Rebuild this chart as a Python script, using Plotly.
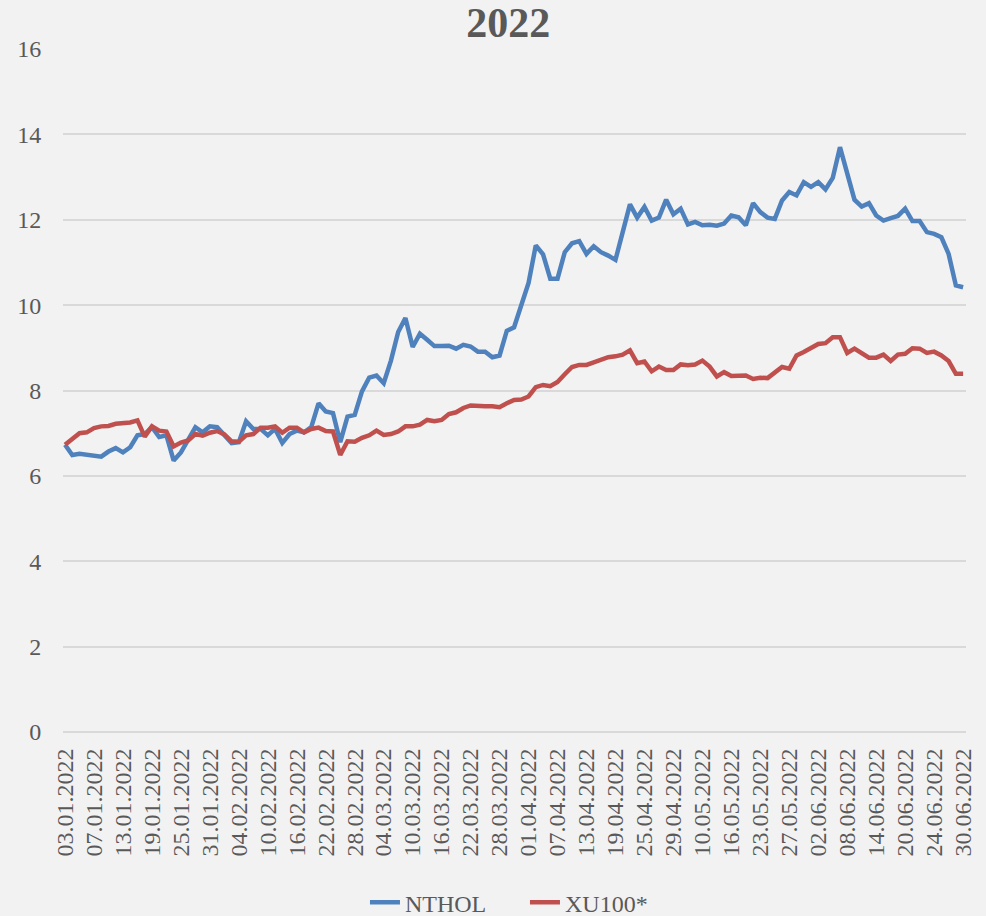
import pandas as pd
import plotly.graph_objects as go

# Trading days (Borsa Istanbul, 2022 H1)
holidays = ["2022-05-02", "2022-05-03", "2022-05-04", "2022-05-19"]
dates = [d.strftime("%d.%m.%Y") for d in pd.bdate_range("2022-01-03", "2022-06-30")
         if d.strftime("%Y-%m-%d") not in holidays]
tick_labels = dates[::4]

nthol = [
    6.73, 6.49, 6.52, 6.49, 6.46, 6.45, 6.57, 6.65, 6.55, 6.67,
    6.95, 6.98, 7.14, 6.91, 6.95, 6.36, 6.55, 6.83, 7.14, 7.02,
    7.16, 7.14, 6.95, 6.77, 6.79, 7.28, 7.10, 7.10, 6.95, 7.10,
    6.77, 6.98, 7.06, 7.02, 7.14, 7.70, 7.51, 7.47, 6.79, 7.39,
    7.43, 7.98, 8.30, 8.35, 8.17, 8.70, 9.37, 9.70, 9.02, 9.33,
    9.19, 9.04, 9.04, 9.05, 8.98, 9.07, 9.03, 8.91, 8.91, 8.78,
    8.82, 9.40, 9.48, 9.99, 10.52, 11.40, 11.19, 10.62, 10.62, 11.24,
    11.45, 11.50, 11.20, 11.38, 11.24, 11.16, 11.06, 11.71, 12.36, 12.05,
    12.30, 11.98, 12.05, 12.47, 12.13, 12.26, 11.89, 11.95, 11.87, 11.88,
    11.86, 11.91, 12.10, 12.06, 11.87, 12.39, 12.18, 12.05, 12.02, 12.45,
    12.65, 12.57, 12.88, 12.77, 12.88, 12.71, 12.98, 13.70, 13.08, 12.47,
    12.31, 12.39, 12.10, 11.98, 12.04, 12.09, 12.26, 11.97, 11.97, 11.71,
    11.67, 11.59, 11.20, 10.46, 10.42,
]

xu100 = [
    6.73, 6.87, 7.00, 7.02, 7.12, 7.16, 7.17, 7.22, 7.24, 7.25,
    7.30, 6.92, 7.16, 7.06, 7.04, 6.69, 6.78, 6.83, 6.98, 6.94,
    7.01, 7.05, 6.97, 6.81, 6.80, 6.95, 6.98, 7.13, 7.13, 7.16,
    7.01, 7.13, 7.13, 7.02, 7.10, 7.13, 7.05, 7.04, 6.49, 6.81,
    6.80, 6.89, 6.95, 7.06, 6.96, 6.98, 7.04, 7.16, 7.16, 7.20,
    7.31, 7.28, 7.31, 7.45, 7.49, 7.59, 7.65, 7.63, 7.63, 7.63,
    7.61, 7.70, 7.78, 7.79, 7.86, 8.08, 8.13, 8.10, 8.20, 8.38,
    8.55, 8.60, 8.60, 8.66, 8.73, 8.78, 8.80, 8.84, 8.94, 8.64,
    8.68, 8.45, 8.56, 8.48, 8.48, 8.61, 8.59, 8.61, 8.70, 8.56,
    8.33, 8.43, 8.34, 8.35, 8.35, 8.27, 8.30, 8.29, 8.41, 8.55,
    8.51, 8.82, 8.90, 8.99, 9.09, 9.11, 9.25, 9.25, 8.88, 8.98,
    8.88, 8.77, 8.77, 8.84, 8.69, 8.84, 8.86, 8.99, 8.98, 8.88,
    8.91, 8.82, 8.69, 8.39, 8.39,
]

FONT = "Liberation Serif"
TXT = "#595959"

fig = go.Figure()
fig.add_trace(go.Scatter(x=dates, y=nthol, mode="lines", name="NTHOL",
                         line=dict(color="#4F81BD", width=4.5)))
fig.add_trace(go.Scatter(x=dates, y=xu100, mode="lines", name="XU100*",
                         line=dict(color="#C0504D", width=4.5)))

fig.update_layout(
    width=986, height=916,
    margin=dict(l=63, r=20, t=49, b=184, autoexpand=False),
    paper_bgcolor="#F2F2F2", plot_bgcolor="#F2F2F2",
    font=dict(family=FONT, size=24, color=TXT),
    title=dict(text="<b>2022</b>", x=0.493, xref="paper", xanchor="center",
               y=0.976, yref="container", yanchor="middle",
               font=dict(family=FONT, size=42, color=TXT)),
    showlegend=True,
    legend=dict(orientation="h", x=0.3344, xanchor="left", y=-0.25, yanchor="middle",
                entrywidth=115, entrywidthmode="pixels",
                font=dict(family=FONT, size=24, color=TXT), bgcolor="rgba(0,0,0,0)"),
    xaxis=dict(type="category", range=[-0.28, 124.4], showgrid=False, showline=False,
               zeroline=False, automargin=False, tickmode="array", tickvals=tick_labels,
               ticktext=tick_labels, tickangle=-90, ticks="outside", ticklen=6,
               tickcolor="rgba(0,0,0,0)", tickfont=dict(family=FONT, size=24, color=TXT)),
    yaxis=dict(range=[0, 16], dtick=2, tick0=0, showgrid=True, gridcolor="#D9D9D9", gridwidth=1.5,
               zeroline=True, zerolinecolor="#D9D9D9", zerolinewidth=1.5, showline=False,
               automargin=False, ticks="outside", ticklen=16, tickcolor="rgba(0,0,0,0)",
               tickfont=dict(family=FONT, size=24, color=TXT)),
)

fig.write_html(
    "out.html",
    config={"displayModeBar": False},
    post_script="document.body.style.margin='0px';document.body.style.overflow='hidden';",
)
